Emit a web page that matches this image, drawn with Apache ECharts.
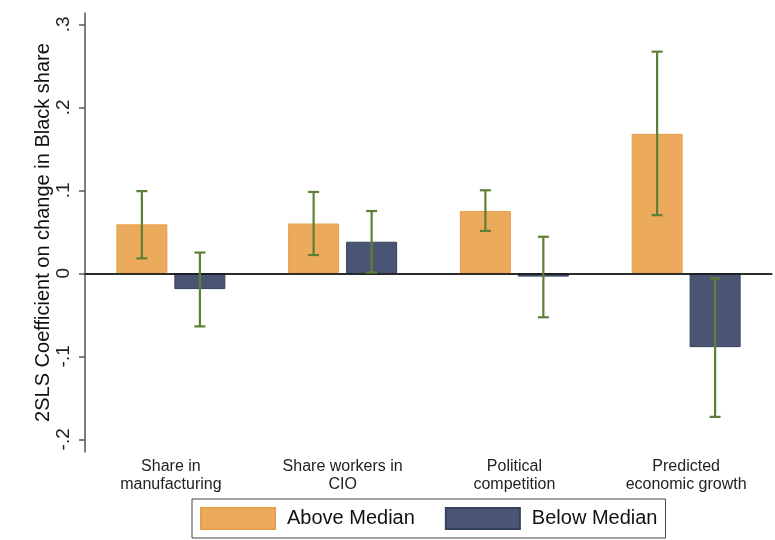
<!DOCTYPE html>
<html>
<head>
<meta charset="utf-8">
<script src="https://cdn.jsdelivr.net/npm/echarts@6/dist/echarts.min.js"></script>
<style>
html,body{margin:0;padding:0;background:#fff;}
#chart{width:775px;height:540px;}
</style>
</head>
<body>
<div id="chart"></div>
<script>
const categories = ["Share in\nmanufacturing", "Share workers in\nCIO", "Political\ncompetition", "Predicted\neconomic growth"];
const seriesNames = ["Above Median", "Below Median"];
const aboveValues = [0.059, 0.060, 0.075, 0.168];
const aboveLow = [0.018, 0.022, 0.051, 0.070];
const aboveHigh = [0.099, 0.098, 0.100, 0.267];
const belowValues = [-0.019, 0.038, -0.004, -0.089];
const belowLow = [-0.064, 0.001, -0.053, -0.173];
const belowHigh = [0.025, 0.075, 0.044, -0.006];
const yTicks = [-0.2, -0.1, 0, 0.1, 0.2, 0.3];
const yTitle = "2SLS Coefficient on change in Black share";

const FONT = "'Liberation Sans', Arial, sans-serif";
const BAR_W = 51, BAR_GAP = 7;
const OFFSET = (BAR_W + BAR_GAP) / 2;

function fmtTick(v) {
  if (Math.abs(v) < 1e-9) return "0";
  return v.toFixed(1).replace("0.", ".");
}

function errorSeries(lo, hi, offset) {
  return {
    type: 'custom',
    z: 5,
    silent: true,
    data: lo.map((l, i) => [i, l, hi[i]]),
    renderItem: function (params, api) {
      const pLo = api.coord([api.value(0), api.value(1)]);
      const pHi = api.coord([api.value(0), api.value(2)]);
      const cx = pLo[0] + offset;
      const cap = 5.5;
      const st = { stroke: '#5E8036', lineWidth: 2.2 };
      return {
        type: 'group',
        children: [
          { type: 'line', shape: { x1: cx, y1: pLo[1], x2: cx, y2: pHi[1] }, style: st },
          { type: 'line', shape: { x1: cx - cap, y1: pLo[1], x2: cx + cap, y2: pLo[1] }, style: st },
          { type: 'line', shape: { x1: cx - cap, y1: pHi[1], x2: cx + cap, y2: pHi[1] }, style: st }
        ]
      };
    }
  };
}

const chart = echarts.init(document.getElementById('chart'));
chart.setOption({
  backgroundColor: '#fff',
  animation: false,
  textStyle: { fontFamily: FONT },
  grid: { left: 85, right: 3, top: 13, bottom: 88 },
  legend: {
    data: seriesNames,
    left: 192, top: 499,
    padding: [8, 8, 8, 8],
    itemWidth: 74, itemHeight: 21, itemGap: 30,
    borderColor: '#444', borderWidth: 1,
    icon: 'rect',
    textStyle: { fontSize: 20, color: '#111', fontFamily: FONT, padding: [0, 0, 0, 7] }
  },
  xAxis: {
    type: 'category',
    data: categories,
    axisTick: { show: false },
    axisLine: { lineStyle: { color: '#555', width: 1.5 } },
    axisLabel: { fontSize: 16, lineHeight: 18, color: '#222', margin: 6, fontFamily: FONT, interval: 0 }
  },
  yAxis: {
    type: 'value',
    min: -0.2153, max: 0.3136,
    splitLine: { show: false },
    axisLine: { show: true, lineStyle: { color: '#555', width: 1.5 } },
    axisTick: { show: true, length: 6, customValues: yTicks, lineStyle: { color: '#555', width: 1.5 } },
    axisLabel: { customValues: yTicks, rotate: 90, fontSize: 19, color: '#222', margin: 12, formatter: fmtTick, fontFamily: FONT },
    name: yTitle,
    nameLocation: 'middle',
    nameRotate: 90,
    nameGap: 32,
    nameMoveOverlap: false,
    nameTextStyle: { fontSize: 20, color: '#111', fontFamily: FONT }
  },
  series: [
    {
      name: seriesNames[0], type: 'bar', data: aboveValues,
      barWidth: BAR_W, barGap: (BAR_GAP / BAR_W * 100).toFixed(1) + '%',
      itemStyle: { color: '#ECAA5C', borderColor: '#E6A04C', borderWidth: 1 },
      markLine: {
        silent: true, symbol: 'none', label: { show: false },
        lineStyle: { color: '#111', width: 1.5, type: 'solid' },
        data: [{ yAxis: 0 }]
      },
      z: 2
    },
    {
      name: seriesNames[1], type: 'bar', data: belowValues,
      barWidth: BAR_W,
      itemStyle: { color: '#4A5574', borderColor: '#34405E', borderWidth: 1 },
      z: 2
    },
    errorSeries(aboveLow, aboveHigh, -OFFSET),
    errorSeries(belowLow, belowHigh, OFFSET)
  ]
});
</script>
</body>
</html>
